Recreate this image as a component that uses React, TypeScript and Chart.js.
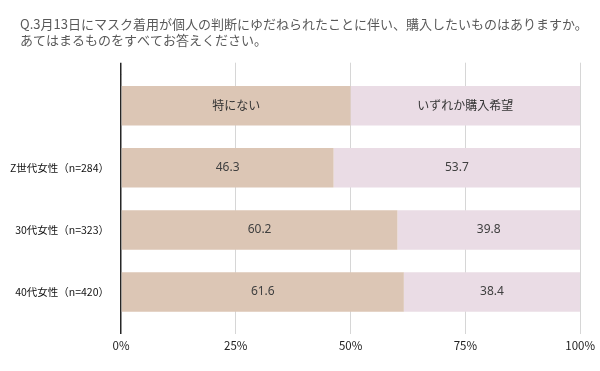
import React, { useEffect, useRef } from 'react';
import { Chart, registerables } from 'chart.js';

Chart.register(...registerables);

const titleLines = [
  'Q.3月13日にマスク着用が個人の判断にゆだねられたことに伴い、購入したいものはありますか。',
  'あてはまるものをすべてお答えください。',
];
const categories = ['', 'Z世代女性（n=284）', '30代女性（n=323）', '40代女性（n=420）'];
const seriesNames = ['特にない', 'いずれか購入希望'];
const noneValues = [50, 46.3, 60.2, 61.6];
const buyValues = [50, 53.7, 39.8, 38.4];
const xTicks = [0, 25, 50, 75, 100];

const FONT = '"Noto Sans CJK JP", "Noto Sans", sans-serif';
const COLORS = ['#dcc6b5', '#eadce5'];

const gridColor = (ctx: any) => (ctx.tick && ctx.tick.value === 0 ? '#262626' : '#d6d6d6');
const gridWidth = (ctx: any) => (ctx.tick && ctx.tick.value === 0 ? 1.5 : 1);

const titlePlugin = {
  id: 'titleText',
  beforeDraw(chart: any) {
    const ctx = chart.ctx;
    ctx.save();
    ctx.fillStyle = '#595959';
    ctx.font = `13px ${FONT}`;
    ctx.textBaseline = 'middle';
    ctx.textAlign = 'left';
    ctx.fillText(titleLines[0], 20, 24);
    ctx.fillText(titleLines[1], 20, 40);
    ctx.restore();
  },
};

const labelPlugin = {
  id: 'barLabels',
  afterDatasetsDraw(chart: any) {
    const ctx = chart.ctx;
    ctx.save();
    ctx.textAlign = 'center';
    ctx.textBaseline = 'middle';
    chart.data.datasets.forEach((ds: any, di: number) => {
      const meta = chart.getDatasetMeta(di);
      meta.data.forEach((bar: any, i: number) => {
        const p = bar.getProps(['x', 'y', 'base'], true);
        const cx = (p.x + p.base) / 2;
        if (i === 0) {
          ctx.fillStyle = '#333333';
          ctx.font = `12px ${FONT}`;
          ctx.fillText(ds.label, cx, p.y);
        } else {
          ctx.fillStyle = '#404040';
          ctx.font = `12px "Noto Sans", sans-serif`;
          ctx.fillText(Number(ds.data[i]).toFixed(1), cx, p.y);
        }
      });
    });
    ctx.restore();
  },
};

export default function App() {
  const ref = useRef<HTMLCanvasElement>(null);
  useEffect(() => {
    document.body.style.margin = '0';
    const chart = new Chart(ref.current as HTMLCanvasElement, {
      type: 'bar',
      data: {
        labels: categories,
        datasets: [
          {
            label: seriesNames[0],
            data: noneValues,
            backgroundColor: COLORS[0],
            borderWidth: 0,
            categoryPercentage: 1,
            barPercentage: 0.636,
          },
          {
            label: seriesNames[1],
            data: buyValues,
            backgroundColor: COLORS[1],
            borderWidth: 0,
            categoryPercentage: 1,
            barPercentage: 0.636,
          },
        ],
      },
      options: {
        indexAxis: 'y',
        responsive: false,
        animation: false,
        layout: { padding: { top: 0, bottom: 0, left: 0, right: 19 } },
        plugins: { legend: { display: false }, tooltip: { enabled: false }, title: { display: false } },
        scales: {
          x: {
            type: 'linear',
            stacked: true,
            position: 'bottom',
            min: 0,
            max: 100,
            afterBuildTicks: (s: any) => {
              s.ticks = xTicks.map((v) => ({ value: v }));
            },
            ticks: {
              callback: (v: any) => v + '%',
              font: { family: FONT, size: 11.5 },
              color: '#222222',
              padding: 5,
              maxRotation: 0,
            },
            grid: { color: gridColor, lineWidth: gridWidth, tickLength: 11, drawTicks: true },
            border: { display: false },
            afterFit: (s: any) => {
              s.height = 48;
            },
          },
          x2: {
            type: 'linear',
            position: 'top',
            min: 0,
            max: 100,
            afterBuildTicks: (s: any) => {
              s.ticks = xTicks.map((v) => ({ value: v }));
            },
            ticks: { display: false },
            grid: { color: gridColor, lineWidth: gridWidth, tickLength: 12, drawOnChartArea: false },
            border: { display: false },
            afterFit: (s: any) => {
              s.height = 74.7;
            },
          },
          y: {
            type: 'category',
            stacked: true,
            grid: { display: false },
            border: { display: false },
            ticks: { font: { family: FONT, size: 10.5 }, color: '#111111', padding: 4 },
            afterFit: (s: any) => {
              s.width = 121;
            },
          },
        },
      } as any,
      plugins: [titlePlugin, labelPlugin],
    });
    return () => chart.destroy();
  }, []);
  return <canvas ref={ref} width={600} height={371} style={{ display: 'block' }} />;
}
